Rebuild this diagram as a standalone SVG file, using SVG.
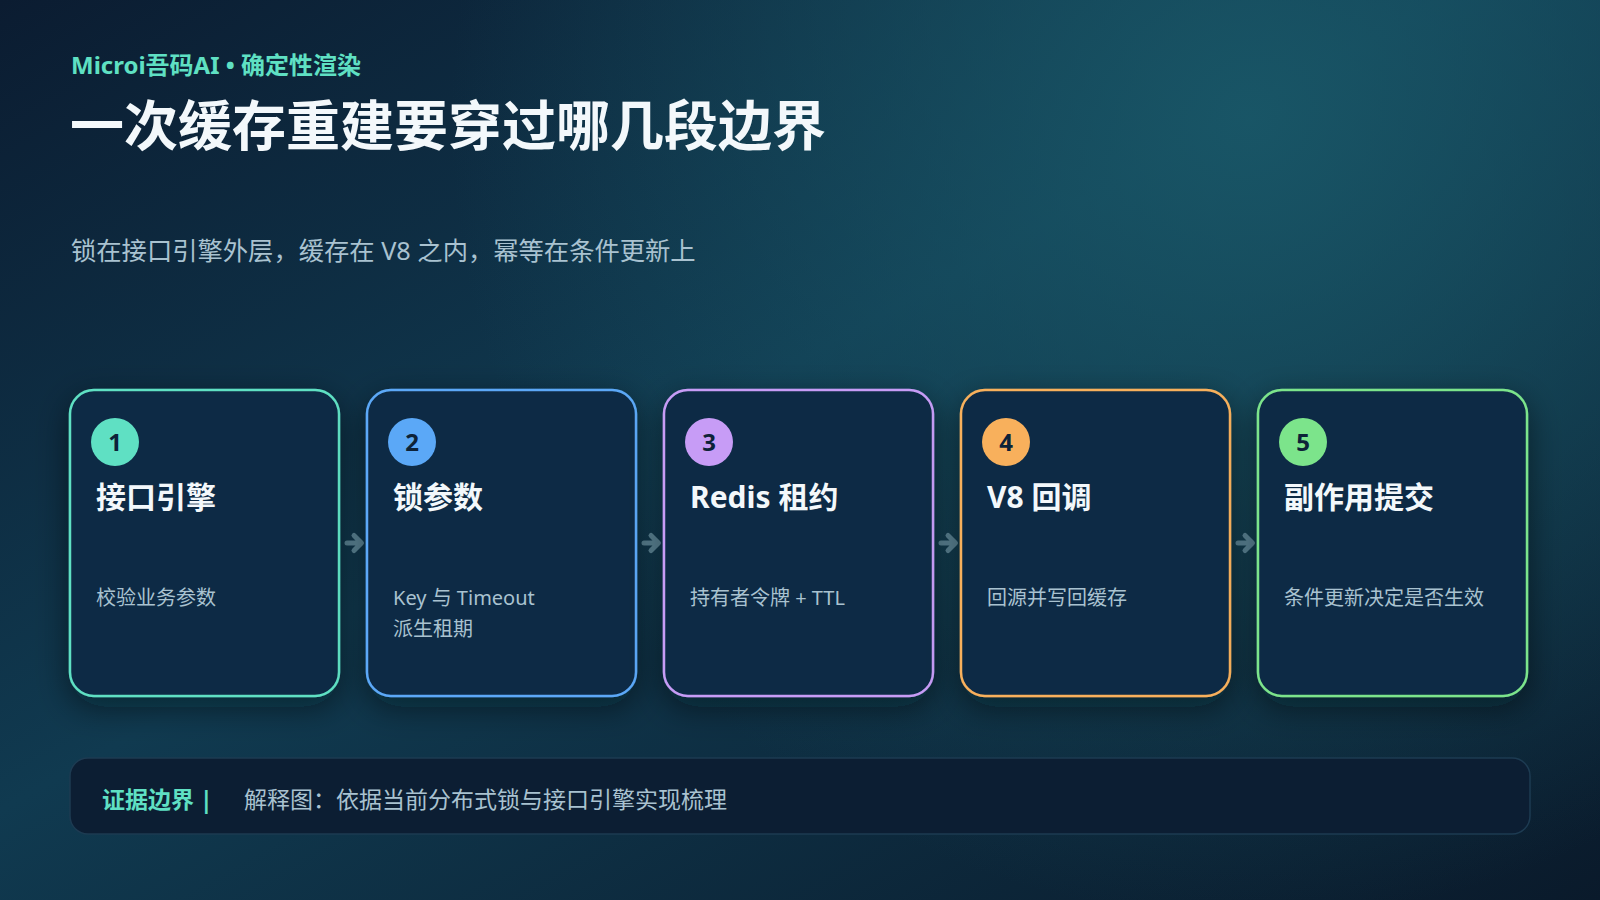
<svg xmlns="http://www.w3.org/2000/svg" width="1600" height="900" viewBox="0 0 1600 900">
<defs>
<linearGradient id="bg" x1="0" y1="0" x2="1" y2="1">
<stop offset="0" stop-color="#0b1c31"/>
<stop offset="0.45" stop-color="#103a50"/>
<stop offset="1" stop-color="#0a1a2b"/>
</linearGradient>
<radialGradient id="glow" cx="1250" cy="120" r="800" gradientUnits="userSpaceOnUse">
<stop offset="0" stop-color="#1a5a6a" stop-opacity="0.85"/>
<stop offset="1" stop-color="#1a5a6a" stop-opacity="0"/>
</radialGradient>
<filter id="sh" x="-20%" y="-20%" width="140%" height="140%">
<feDropShadow dx="0" dy="10" stdDeviation="16" flood-color="#020a14" flood-opacity="0.5"/>
</filter>
<style>
text{font-family:"Noto Sans","Noto Sans CJK SC",sans-serif}
.card{fill:#0c2a45;stroke-width:2.5}
.num{font-size:24px;font-weight:700;fill:#0d2238;text-anchor:middle}
.ttl{font-size:30px;font-weight:700;fill:#f3f8fb}
.desc{font-size:20px;fill:#a9c2d0}
.arr{fill:none;stroke:#5f8a9c;stroke-width:5;stroke-linecap:round;stroke-linejoin:round}
</style>
</defs>
<rect width="1600" height="900" fill="url(#bg)"/>
<rect width="1600" height="900" fill="url(#glow)"/>

<text x="71" y="74" font-size="24" font-weight="700" fill="#5fe0c3">Microi吾码AI • 确定性渲染</text>
<text x="70" y="146" font-size="54" font-weight="700" fill="#f3f8fb">一次缓存重建要穿过哪几段边界</text>
<text x="71" y="260" font-size="25.3" fill="#a9c2d0">锁在接口引擎外层，缓存在 V8 之内，幂等在条件更新上</text>

<g id="connectors">
<path class="arr" d="M347,543 H361 M354,535.5 L361.5,543 L354,550.5"/>
<path class="arr" d="M644,543 H658 M651,535.5 L658.5,543 L651,550.5"/>
<path class="arr" d="M941,543 H955 M948,535.5 L955.5,543 L948,550.5"/>
<path class="arr" d="M1238,543 H1252 M1245,535.5 L1252.5,543 L1245,550.5"/>
</g>

<g id="node1">
<rect class="card" x="70" y="390" width="269" height="306" rx="24" stroke="#5fe0c3" filter="url(#sh)"/>
<circle cx="115" cy="442" r="24" fill="#5fe0c3"/>
<text class="num" x="115" y="451">1</text>
<text class="ttl" x="96" y="508">接口引擎</text>
<text class="desc" x="96" y="605">校验业务参数</text>
</g>
<g id="node2">
<rect class="card" x="367" y="390" width="269" height="306" rx="24" stroke="#5ba8f7" filter="url(#sh)"/>
<circle cx="412" cy="442" r="24" fill="#5ba8f7"/>
<text class="num" x="412" y="451">2</text>
<text class="ttl" x="393" y="508">锁参数</text>
<text class="desc" x="393" y="605">Key 与 Timeout</text>
<text class="desc" x="393" y="636">派生租期</text>
</g>
<g id="node3">
<rect class="card" x="664" y="390" width="269" height="306" rx="24" stroke="#c79cf6" filter="url(#sh)"/>
<circle cx="709" cy="442" r="24" fill="#c79cf6"/>
<text class="num" x="709" y="451">3</text>
<text class="ttl" x="690" y="508">Redis 租约</text>
<text class="desc" x="690" y="605">持有者令牌 + TTL</text>
</g>
<g id="node4">
<rect class="card" x="961" y="390" width="269" height="306" rx="24" stroke="#f8b05c" filter="url(#sh)"/>
<circle cx="1006" cy="442" r="24" fill="#f8b05c"/>
<text class="num" x="1006" y="451">4</text>
<text class="ttl" x="987" y="508">V8 回调</text>
<text class="desc" x="987" y="605">回源并写回缓存</text>
</g>
<g id="node5">
<rect class="card" x="1258" y="390" width="269" height="306" rx="24" stroke="#7ce48b" filter="url(#sh)"/>
<circle cx="1303" cy="442" r="24" fill="#7ce48b"/>
<text class="num" x="1303" y="451">5</text>
<text class="ttl" x="1284" y="508">副作用提交</text>
<text class="desc" x="1284" y="605">条件更新决定是否生效</text>
</g>

<g id="evidence">
<rect x="70" y="758" width="1460" height="76" rx="18" fill="#0c1e33" stroke="#1d3b52" stroke-width="1.5"/>
<text x="102" y="808" font-size="23" font-weight="700" fill="#5fe0c3">证据边界 |</text>
<text x="244" y="808" font-size="23" fill="#a9c2d0">解释图：依据当前分布式锁与接口引擎实现梳理</text>
</g>
</svg>
